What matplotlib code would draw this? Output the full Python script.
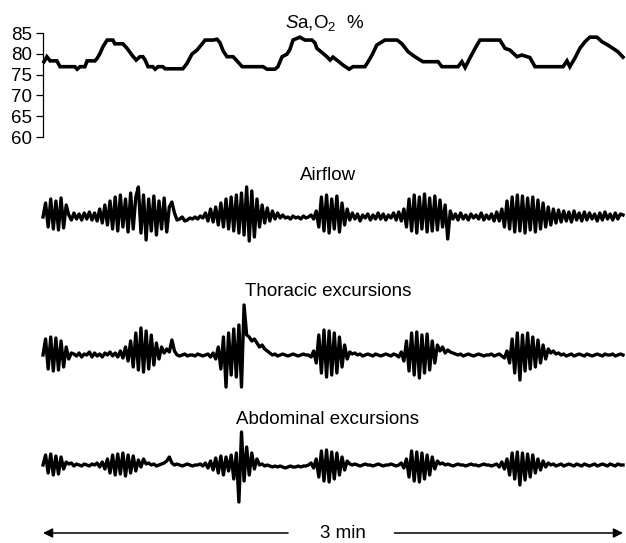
import numpy as np
import matplotlib
matplotlib.use("Agg")
import matplotlib.pyplot as plt

plt.rcParams['font.family'] = ['Liberation Sans', 'DejaVu Sans']
plt.rcParams['mathtext.fontset'] = 'custom'
plt.rcParams['mathtext.rm'] = 'Liberation Sans'
plt.rcParams['mathtext.it'] = 'Liberation Sans:italic'

# ---------------- data ----------------
# SaO2 (%) versus time (s)
sao2_t = [0.3, 1.2, 2.2, 4.3, 5.3, 9.9, 10.6, 11.5, 13.0, 13.7, 16.1, 16.8, 17.7, 18.6,
          19.9, 21.7, 22.3, 24.8, 26.1, 27.6, 28.9, 30.1, 31.0, 31.7, 32.6, 34.1, 34.8,
          35.7, 37.2, 37.9, 43.4, 44.7, 46.2, 47.8, 49.3, 50.3, 52.8, 54.0, 54.9, 55.9,
          57.1, 59.0, 60.2, 61.8, 68.3, 69.5, 72.0, 72.9, 74.2, 75.7, 76.6, 77.6, 79.7,
          81.3, 83.5, 84.4, 85.0, 86.6, 88.1, 89.1, 90.0, 91.5, 93.1, 95.0, 96.2, 99.9,
          100.9, 102.1, 103.6, 106.1, 109.9, 111.4, 113.3, 115.4, 117.9, 122.6, 123.8,
          128.8, 130.0, 131.0, 132.5, 134.1, 135.6, 141.8, 143.4, 144.9, 147.1, 148.6,
          151.1, 152.7, 161.4, 162.6, 163.5, 165.1, 166.6, 168.2, 169.7, 171.9, 173.5,
          175.3, 176.9, 178.4, 180.0]
sao2_v = [78.1, 79.3, 78.3, 78.3, 76.9, 76.9, 76.3, 76.9, 76.9, 78.3, 78.3, 78.9, 80.1, 81.7,
          83.3, 83.3, 82.4, 82.4, 81.3, 79.7, 78.5, 79.3, 79.3, 78.5, 76.9, 76.9, 76.3,
          76.9, 76.9, 76.4, 76.4, 77.7, 79.9, 80.9, 82.3, 83.3, 83.3, 83.5, 82.7, 80.7,
          79.3, 79.3, 78.3, 76.9, 76.9, 76.3, 76.3, 76.9, 79.3, 79.9, 81.0, 83.3, 84.0,
          83.3, 83.3, 82.6, 81.3, 80.3, 79.3, 78.5, 79.2, 78.3, 77.3, 76.3, 76.9, 76.9,
          78.1, 79.7, 82.1, 83.3, 83.3, 82.4, 80.5, 79.3, 78.1, 78.1, 76.9,
          76.9, 78.1, 76.7, 79.0, 81.3, 83.3, 83.3, 81.3, 80.9, 79.3, 79.7,
          79.1, 76.9, 76.9, 78.3, 76.9, 79.0, 81.3, 82.9, 84.0, 84.0, 82.9,
          82.1, 81.3, 80.5, 79.2]
sao2_ticks = [60, 65, 70, 75, 80, 85]

# Respiratory traces, sampled every 0.8 s (arbitrary units, 0 = baseline)
sample_step = 0.8
airflow = [0, 14, -10, 18, -12, 16, -13, 19, -11, 12,
           2, -3, 4, -2, 3, -3, 4, -2, 5, -3, 4, -4,
           8, -6, 12, -8, 16,
           -12, 20, -14, 22, -10, 18, -15, 24, -12, 20, 30, -16, 22, -23, 18, -14, 21, -18, 16, -12, 19, -15, 10,
           15, 4, -3,
           -2, 0, -4, -3, -1, -2, 0, -2, 1, -1,
           4, -4, 8, -5, 10, -8, 14, -10, 18, -12, 20, -14, 22, -16, 24, -18, 30, -24, 26, -20, 18, -10, 12,
           -6, 9, -4, 6, -2, 4, -1, 2,
           -1, 0, -2, 1, -1, 0, -2, 1, -1, 0, 2, -2, 6,
           -10, 20, -14, 22, -16, 18, -12, 21, -15, 14, -8, 8,
           -3, 4, -2, 3, -4, 2, -1, 3, -3, 2, -2, 4, -2, 3, -3, 2, -1, 4, -3, 5, -4, 8,
           -10, 18, -14, 22, -16, 20, -12, 23, -15, 19, -14, 21, -13, 17, -10, 12, -22,
           6, -2, 3, -3, 4, -2, 2, -3, 3, -1, 2, -2, 4, -3, 2, -2, 3, -4, 5, -4, 8,
           -10, 16, -12, 20, -15, 22, -14, 21, -16, 19, -13, 20, -15, 17, -12, 14, -10, 10, -8, 8,
           -6, 7, -5, 6, -4, 5, -5, 6, -3, 4, -4, 5, -3, 4, -2, 3, -4, 4, -3, 5, -2, 3, -3, 4, -2, 3, 2]
thoracic = [0, 16, -14, 18, -16, 17, -15, 14, -12, 8, -4,
            2, 1, -1, 2, -2, 1, 0, 3, -2, 2, -1, 1, -2, 2, 0, 3, -1, 2, -2, 4, -3, 8, -6,
            14, -12, 22, -15, 27, -17, 24, -14, 20, -10, 12,
            -4, 8, 2, 6, 3, 15, 4, 0,
            -1, 0, 1, -1, 0, 0, -1, 1, 0, -1, 0, 1, -2, 2, -4, 8,
            -14, 18, -32, 22, -20, 26, -22, 30, -32, 50, 20, 18,
            14, 16, 12, 8, 10, 6, 4, 2,
            0, 1, -1, 0, 1, 0, -1, 0, 1, 0, -1, 0, 1, 0, 0, -2, 4, -8,
            20, -18, 25, -22, 24, -20, 22, -18, 18, -12, 10, -4,
            3, 1, 2, 0, 1, -1, 0, 1, 0, -1, 1, 0, -1, 0, 1, 0, -1, 1, 0, -2, 3, -6,
            14, -16, 22, -20, 23, -23, 20, -18, 21, -15, 14, -8, 10,
            4, 8, 2, 5, 3, 2, 1, 0, 1, -1, 0, 1, 0, -1, 0, 1, 0, -1, 0, 0, 1, -1, 0, 1, -1, -3, 4, -8,
            16, -18, 22, -25, 20, -16, 22, -14, 18, -12, 15, -8, 10, -4, 6,
            2, 4, 1, 2, 0, 1, -1, 0, 1, -1, 0, 1, 0, -1, 1, 0, -1, 0, 1, 0, -1, 1, 0, 0, 1, -1, 0, 1, 0]
abdominal = [0, 10, -8, 11, -10, 9, -9, 8, -4,
             3, 1, 2, -1, 1, 0, -1, 1, 0, -1, 1, 0, 2, -2, 3, -4, 6,
             -8, 10, -10, 11, -9, 12, -11, 10, -8, 9, -6, 5, -2,
             6, 1, 2, 0, 1, -1, 0, 1, 2, 4, 8, 2,
             0, 1, 0, -1, 0, 1, 0, -1, 0, 0, 1, -1, 2, -3, 4,
             -5, 7, -8, 9, -10, 8, -6, 10,
             -14, 12, -37, 33, -16, 18, -10, 12, -4, 6,
             0, 1, -1, 0, -1, -2, -1, -2, -1, -2, -3, -2, -1, -2, -2, -1, -2, -1, -1, 0, 2, -3, 6,
             -12, 14, -16, 15, -17, 13, -14, 12, -10, 8, -5, 4,
             1, 0, 1, 0, -1, 0, 1, 0, 0, -1, 0, 1, 0, -1, 0, 0, 1, 0, -1, 0, 2, -3, 6,
             -12, 14, -16, 13, -17, 12, -14, 10, -10, 8, -4, 4,
             1, 2, 0, 1, 0, -1, 0, 1, 0, 0, -1, 0, 1, 0, 0, -1, 0, 1, 0, 0, -1, 0, 1, -2, 3, -4, 6,
             -10, 12, -14, 13, -20, 12, -15, 11, -12, 10, -8, 6, -5, 4, -2, 2,
             0, 1, -1, 0, 1, -1, 0, 1, 0, -1, 1, 0, -1, 1, 0, -1, 0, 1, -1, 0, 1, 0, -1, 1, 0, -1, 1, 0, 0]
trace_names = ["Airflow", "Thoracic excursions", "Abdominal excursions"]
duration_s = 180
duration_label = "3 min"

# ---------------- layout ----------------
W, H = 626, 543
fig = plt.figure(figsize=(W / 100, H / 100), dpi=100)
fig.patch.set_facecolor('white')


def px_axes(left, top, w, h):
    return fig.add_axes([left / W, 1 - (top + h) / H, w / W, h / H])


X0, XW = 43, 580
FS = 13.5

# SaO2 panel
ax = px_axes(X0, 33, XW, 104)
ax.plot(sao2_t, sao2_v, color='black', lw=2.6, solid_joinstyle='miter', clip_on=False)
ax.set_xlim(0, duration_s)
ax.set_ylim(60, 85)
ax.set_yticks(sao2_ticks)
ax.set_yticklabels([str(v) for v in sao2_ticks], fontsize=FS)
ax.tick_params(axis='y', direction='out', length=5, width=0.9, pad=3)
ax.set_xticks([])
for s in ['top', 'right', 'bottom']:
    ax.spines[s].set_visible(False)
ax.spines['left'].set_linewidth(0.9)
ax.patch.set_visible(False)
ax.text(0.485, 1.1, r"$S$a,O$_2$  %", transform=ax.transAxes, ha='center', va='center',
        fontsize=FS)

# waveform panels
t = np.arange(len(airflow)) * sample_step
bases = [217, 355, 465]
label_y = [175, 292, 420]
for name, vals, base, ly in zip(trace_names, [airflow, thoracic, abdominal], bases, label_y):
    a = px_axes(X0, base - 45, XW, 90)
    a.plot(t, vals, color='black', lw=2.4, clip_on=False)
    a.set_xlim(0, duration_s)
    a.set_ylim(-45, 45)
    a.axis('off')
    fig.text(328 / W, 1 - ly / H, name, ha='center', va='center', fontsize=FS)

# time-scale arrow
ab = px_axes(X0, 523, XW, 20)
ab.set_xlim(0, duration_s)
ab.set_ylim(-1, 1)
ab.axis('off')
mid = 0.517 * duration_s
ab.annotate('', xy=(0, 0), xytext=(mid - 17, 0),
            arrowprops=dict(arrowstyle='-|>', color='black', lw=1.1, mutation_scale=14, shrinkA=0, shrinkB=0))
ab.annotate('', xy=(duration_s, 0), xytext=(mid + 16, 0),
            arrowprops=dict(arrowstyle='-|>', color='black', lw=1.1, mutation_scale=14, shrinkA=0, shrinkB=0))
ab.text(mid, 0, duration_label, ha='center', va='center', fontsize=FS)

fig.savefig('out.png', dpi=100, facecolor='white')
